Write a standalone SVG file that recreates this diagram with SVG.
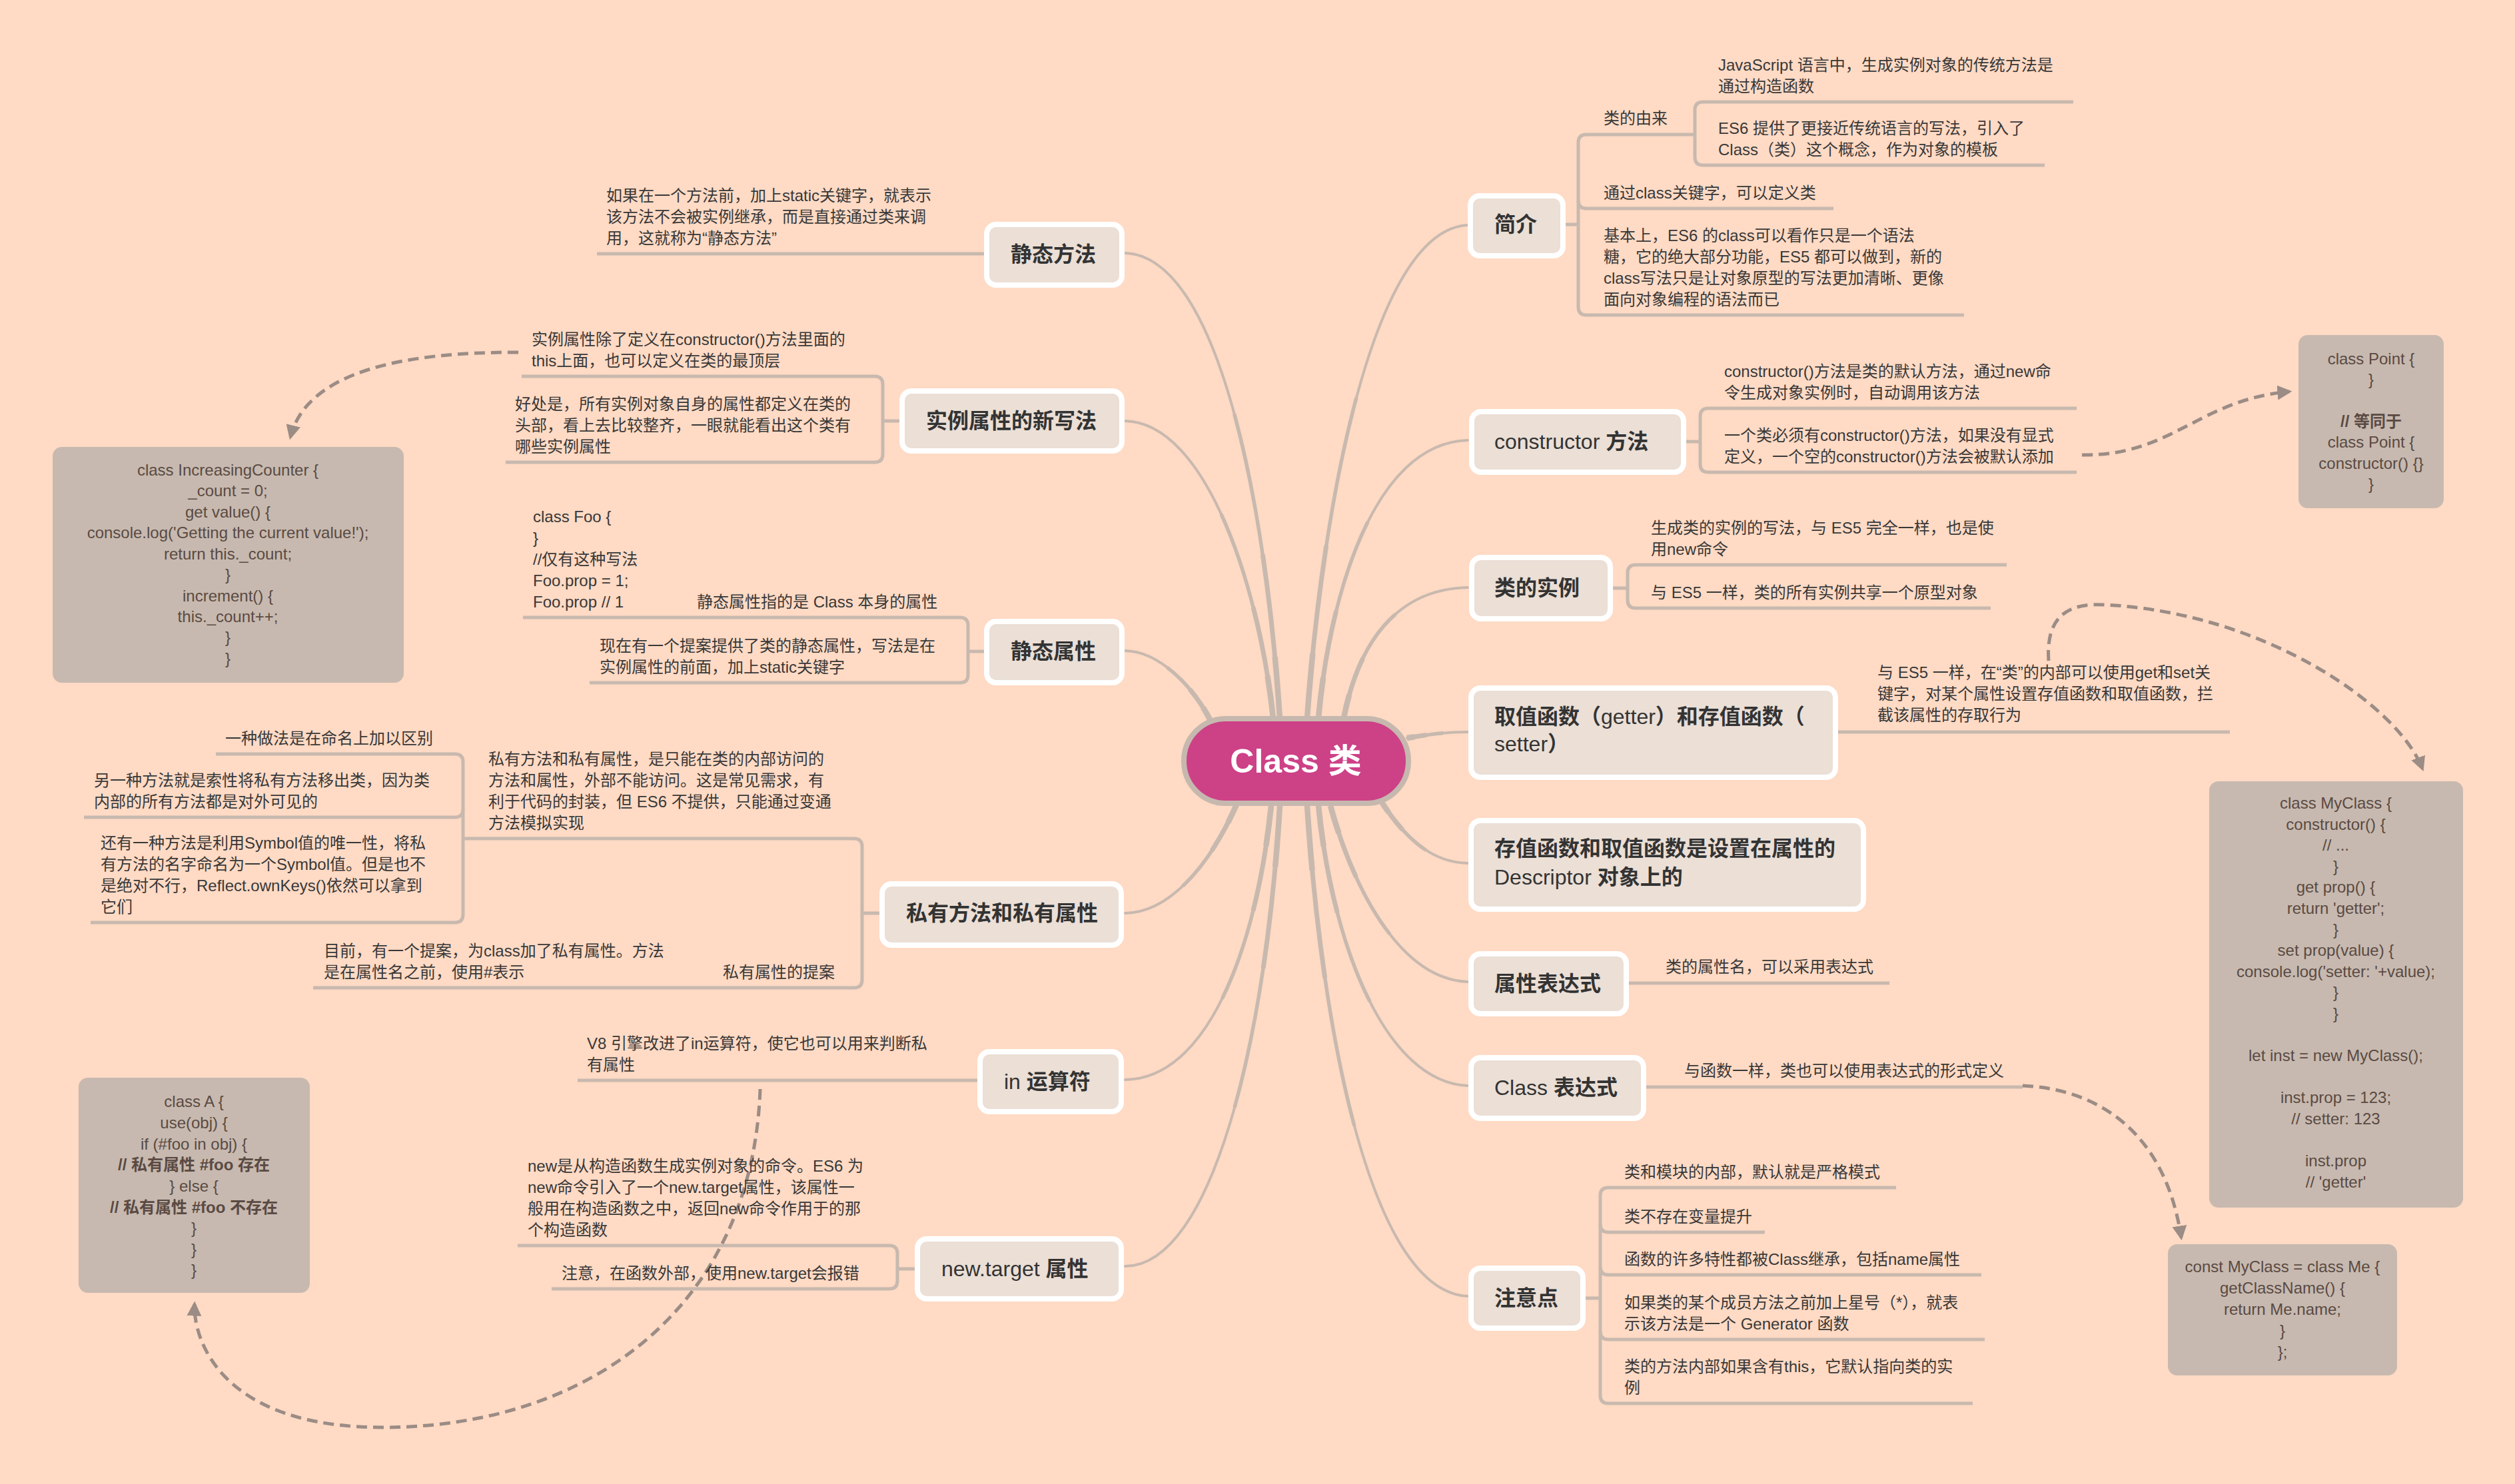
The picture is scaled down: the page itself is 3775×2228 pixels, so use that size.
<svg xmlns="http://www.w3.org/2000/svg" width="3775" height="2228" viewBox="0 0 3775 2228">
<defs>
<style>
text{font-family:"Liberation Sans","Noto Sans CJK SC",sans-serif;}
.leaf{font-size:24px;fill:#383838;}
.title{font-size:32px;font-weight:bold;fill:#333333;}
.lat{font-weight:normal;}
.code{font-size:24px;fill:#5A4A43;text-anchor:middle;}
.codeb{font-weight:bold;}
.nodebox{fill:#EBDFD6;stroke:#FFFFFF;stroke-width:8;}
.codebox{fill:#C7B9AF;}
.m0{fill:none;stroke:#C8B9AF;stroke-width:4;stroke-linecap:round;}
.m1{fill:none;stroke:#C8B9AF;stroke-width:5.5;stroke-dasharray:60 200;}
.m2{fill:none;stroke:#C8B9AF;stroke-width:7;stroke-dasharray:32 200;}
.m3{fill:none;stroke:#C8B9AF;stroke-width:8.5;stroke-dasharray:12 200;}
.ul{fill:none;stroke:#C8B9AF;stroke-width:5;}
.dash{fill:none;stroke:#9B8C85;stroke-width:5;stroke-dasharray:16 9;}
</style>
<marker id="arrow" viewBox="0 0 10 10" refX="8" refY="5" markerWidth="22" markerHeight="22" markerUnits="userSpaceOnUse" orient="auto">
<path d="M0,0 L10,5 L0,10 z" fill="#9B8C85"/>
</marker>
<path id="b1" pathLength="100" d="M1962,1078 C1985,760 2060,345 2203,338"/>
<path id="b2" pathLength="100" d="M1979,1078 C1995,900 2060,665 2203,661"/>
<path id="b3" pathLength="100" d="M2017,1078 C2040,960 2100,884 2203,882"/>
<path id="b4" pathLength="100" d="M2112,1108 C2150,1102 2170,1099 2203,1099"/>
<path id="b5" pathLength="100" d="M2073,1203 C2110,1260 2150,1295 2203,1296"/>
<path id="b6" pathLength="100" d="M1997,1210 C2030,1330 2100,1470 2203,1474"/>
<path id="b7" pathLength="100" d="M1979,1210 C2000,1420 2080,1625 2203,1630"/>
<path id="b8" pathLength="100" d="M1962,1210 C1985,1560 2060,1940 2203,1946"/>
<path id="b9" pathLength="100" d="M1921,1078 C1900,760 1830,385 1689,380"/>
<path id="b10" pathLength="100" d="M1911,1078 C1890,880 1810,635 1689,632"/>
<path id="b11" pathLength="100" d="M1816,1080 C1790,1030 1740,978 1689,977"/>
<path id="b12" pathLength="100" d="M1856,1208 C1820,1290 1760,1370 1689,1371"/>
<path id="b13" pathLength="100" d="M1908,1210 C1885,1430 1810,1620 1689,1621"/>
<path id="b14" pathLength="100" d="M1921,1210 C1900,1560 1820,1900 1689,1901"/>
</defs>
<rect x="0" y="0" width="3775" height="2228" fill="#FFDAC4"/>

<g id="connectors">
<!-- main branches (tapered by stacked strokes) -->
<g class="m0"><use href="#b1"/><use href="#b2"/><use href="#b3"/><use href="#b4"/><use href="#b5"/><use href="#b6"/><use href="#b7"/><use href="#b8"/><use href="#b9"/><use href="#b10"/><use href="#b11"/><use href="#b12"/><use href="#b13"/><use href="#b14"/></g>
<g class="m1"><use href="#b1"/><use href="#b2"/><use href="#b3"/><use href="#b4"/><use href="#b5"/><use href="#b6"/><use href="#b7"/><use href="#b8"/><use href="#b9"/><use href="#b10"/><use href="#b11"/><use href="#b12"/><use href="#b13"/><use href="#b14"/></g>
<g class="m2"><use href="#b1"/><use href="#b2"/><use href="#b3"/><use href="#b4"/><use href="#b5"/><use href="#b6"/><use href="#b7"/><use href="#b8"/><use href="#b9"/><use href="#b10"/><use href="#b11"/><use href="#b12"/><use href="#b13"/><use href="#b14"/></g>
<g class="m3"><use href="#b1"/><use href="#b2"/><use href="#b3"/><use href="#b4"/><use href="#b5"/><use href="#b6"/><use href="#b7"/><use href="#b8"/><use href="#b9"/><use href="#b10"/><use href="#b11"/><use href="#b12"/><use href="#b13"/><use href="#b14"/></g>

<!-- 简介 -->
<path class="ul" d="M2350,337 H2369"/>
<path class="ul" d="M2544,202 H2381 Q2369,202 2369,214 V461 Q2369,473 2381,473 H2948"/>
<path class="ul" d="M2369,301 Q2369,313 2381,313 H2752"/>
<path class="ul" d="M3112,153 H2556 Q2544,153 2544,165 V236 Q2544,248 2556,248 H3069"/>
<!-- constructor -->
<path class="ul" d="M2531,663 H2552"/>
<path class="ul" d="M3117,613 H2564 Q2552,613 2552,625 V697 Q2552,709 2564,709 H3117"/>
<!-- 类的实例 -->
<path class="ul" d="M2421,883 H2443"/>
<path class="ul" d="M3012,848 H2455 Q2443,848 2443,860 V901 Q2443,913 2455,913 H2988"/>
<!-- 取值 -->
<path class="ul" d="M2759,1099 H3347"/>
<!-- 属性表达式 -->
<path class="ul" d="M2445,1476 H2836"/>
<!-- Class 表达式 -->
<path class="ul" d="M2471,1632 H3036"/>
<!-- 注意点 -->
<path class="ul" d="M2380,1949 H2402"/>
<path class="ul" d="M2846,1783 H2414 Q2402,1783 2402,1795 V2095 Q2402,2107 2414,2107 H2961"/>
<path class="ul" d="M2402,1838 Q2402,1850 2414,1850 H2649"/>
<path class="ul" d="M2402,1902 Q2402,1914 2414,1914 H2974"/>
<path class="ul" d="M2402,1999 Q2402,2011 2414,2011 H2979"/>

<!-- 静态方法 -->
<path class="ul" d="M896,381 H1477"/>
<!-- 实例属性的新写法 -->
<path class="ul" d="M1350,632 H1325"/>
<path class="ul" d="M783,565 H1313 Q1325,565 1325,577 V682 Q1325,694 1313,694 H759"/>
<!-- 静态属性 -->
<path class="ul" d="M1477,978 H1453"/>
<path class="ul" d="M785,927 H1441 Q1453,927 1453,939 V1013 Q1453,1025 1441,1025 H885"/>
<!-- 私有 -->
<path class="ul" d="M1320,1371 H1294"/>
<path class="ul" d="M695,1259 H1282 Q1294,1259 1294,1271 V1471 Q1294,1483 1282,1483 H470"/>
<path class="ul" d="M324,1132 H683 Q695,1132 695,1144 V1373 Q695,1385 683,1385 H136"/>
<path class="ul" d="M695,1215 Q695,1227 683,1227 H126"/>
<!-- in -->
<path class="ul" d="M867,1622 H1467"/>
<!-- new.target -->
<path class="ul" d="M1373,1905 H1347"/>
<path class="ul" d="M777,1870 H1335 Q1347,1870 1347,1882 V1923 Q1347,1935 1335,1935 H828"/>

<!-- dashed relations -->
<path class="dash" marker-end="url(#arrow)" d="M3125,683 C3260,685 3300,600 3436,588"/>
<path class="dash" marker-end="url(#arrow)" d="M3075,992 C3070,920 3110,905 3160,908 C3400,920 3600,1060 3636,1154"/>
<path class="dash" marker-end="url(#arrow)" d="M3036,1630 C3150,1635 3250,1700 3274,1858"/>
<path class="dash" marker-end="url(#arrow)" d="M778,529 C600,528 460,560 436,656"/>
<path class="dash" marker-end="url(#arrow)" d="M1141,1635 C1130,1950 900,2140 580,2143 C330,2145 290,2010 292,1958"/>
</g>

<g id="center">
<rect x="1777" y="1079" width="337" height="127" rx="63" fill="#CD4187" stroke="#C6B8AE" stroke-width="8"/>
<text x="1945" y="1160" font-size="50" font-weight="bold" fill="#FFFFFF" text-anchor="middle">Class 类</text>
</g>

<!-- right nodes -->
<g id="n-intro">
<rect class="nodebox" x="2207" y="294" width="139" height="90" rx="14"/>
<text class="title" x="2243" y="348">简介</text>
<text class="leaf" x="2407" y="186">类的由来</text>
<text class="leaf" x="2579" y="106">JavaScript 语言中，生成实例对象的传统方法是</text>
<text class="leaf" x="2579" y="138">通过构造函数</text>
<text class="leaf" x="2579" y="201">ES6 提供了更接近传统语言的写法，引入了</text>
<text class="leaf" x="2579" y="233">Class（类）这个概念，作为对象的模板</text>
<text class="leaf" x="2407" y="298">通过class关键字，可以定义类</text>
<text class="leaf" x="2407" y="362">基本上，ES6 的class可以看作只是一个语法</text>
<text class="leaf" x="2407" y="394">糖，它的绝大部分功能，ES5 都可以做到，新的</text>
<text class="leaf" x="2407" y="426">class写法只是让对象原型的写法更加清晰、更像</text>
<text class="leaf" x="2407" y="458">面向对象编程的语法而已</text>
</g>

<g id="n-constructor">
<rect class="nodebox" x="2209" y="618" width="318" height="91" rx="14"/>
<text class="title" x="2243" y="674"><tspan class="lat">constructor </tspan>方法</text>
<text class="leaf" x="2588" y="566">constructor()方法是类的默认方法，通过new命</text>
<text class="leaf" x="2588" y="598">令生成对象实例时，自动调用该方法</text>
<text class="leaf" x="2588" y="662">一个类必须有constructor()方法，如果没有显式</text>
<text class="leaf" x="2588" y="694">定义，一个空的constructor()方法会被默认添加</text>
</g>

<g id="code-point">
<rect class="codebox" x="3450" y="503" width="218" height="260" rx="14"/>
<text class="code" x="3559" y="547">class Point {</text>
<text class="code" x="3559" y="578">}</text>
<text class="code codeb" x="3559" y="641">// 等同于</text>
<text class="code" x="3559" y="672">class Point {</text>
<text class="code" x="3559" y="704">constructor() {}</text>
<text class="code" x="3559" y="735">}</text>
</g>

<g id="n-instance">
<rect class="nodebox" x="2209" y="837" width="208" height="92" rx="14"/>
<text class="title" x="2243" y="894">类的实例</text>
<text class="leaf" x="2478" y="801">生成类的实例的写法，与 ES5 完全一样，也是使</text>
<text class="leaf" x="2478" y="833">用new命令</text>
<text class="leaf" x="2478" y="898">与 ES5 一样，类的所有实例共享一个原型对象</text>
</g>

<g id="n-getter">
<rect class="nodebox" x="2208" y="1033" width="547" height="134" rx="14"/>
<text class="title" x="2243" y="1087">取值函数（<tspan class="lat">getter</tspan>）和存值函数（</text>
<text class="title" x="2243" y="1128"><tspan class="lat">setter</tspan>）</text>
<text class="leaf" x="2818" y="1018">与 ES5 一样，在“类”的内部可以使用get和set关</text>
<text class="leaf" x="2818" y="1050">键字，对某个属性设置存值函数和取值函数，拦</text>
<text class="leaf" x="2818" y="1082">截该属性的存取行为</text>
</g>

<g id="code-myclass">
<rect class="codebox" x="3316" y="1173" width="381" height="640" rx="14"/>
<text class="code" x="3506" y="1214">class MyClass {</text>
<text class="code" x="3506" y="1246">constructor() {</text>
<text class="code" x="3506" y="1277">// ...</text>
<text class="code" x="3506" y="1309">}</text>
<text class="code" x="3506" y="1340">get prop() {</text>
<text class="code" x="3506" y="1372">return 'getter';</text>
<text class="code" x="3506" y="1404">}</text>
<text class="code" x="3506" y="1435">set prop(value) {</text>
<text class="code" x="3506" y="1467">console.log('setter: '+value);</text>
<text class="code" x="3506" y="1498">}</text>
<text class="code" x="3506" y="1530">}</text>
<text class="code" x="3506" y="1593">let inst = new MyClass();</text>
<text class="code" x="3506" y="1656">inst.prop = 123;</text>
<text class="code" x="3506" y="1688">// setter: 123</text>
<text class="code" x="3506" y="1751">inst.prop</text>
<text class="code" x="3506" y="1783">// 'getter'</text>
</g>

<g id="n-descriptor">
<rect class="nodebox" x="2208" y="1232" width="589" height="133" rx="14"/>
<text class="title" x="2243" y="1285">存值函数和取值函数是设置在属性的</text>
<text class="title" x="2243" y="1328"><tspan class="lat">Descriptor </tspan>对象上的</text>
</g>

<g id="n-propexpr">
<rect class="nodebox" x="2208" y="1432" width="233" height="90" rx="14"/>
<text class="title" x="2243" y="1488">属性表达式</text>
<text class="leaf" x="2500" y="1460">类的属性名，可以采用表达式</text>
</g>

<g id="n-classexpr">
<rect class="nodebox" x="2208" y="1588" width="259" height="91" rx="14"/>
<text class="title" x="2243" y="1644"><tspan class="lat">Class </tspan>表达式</text>
<text class="leaf" x="2528" y="1616">与函数一样，类也可以使用表达式的形式定义</text>
</g>

<g id="code-me">
<rect class="codebox" x="3254" y="1868" width="344" height="197" rx="14"/>
<text class="code" x="3426" y="1910">const MyClass = class Me {</text>
<text class="code" x="3426" y="1942">getClassName() {</text>
<text class="code" x="3426" y="1974">return Me.name;</text>
<text class="code" x="3426" y="2006">}</text>
<text class="code" x="3426" y="2038">};</text>
</g>

<g id="n-notes">
<rect class="nodebox" x="2208" y="1904" width="168" height="90" rx="14"/>
<text class="title" x="2243" y="1960">注意点</text>
<text class="leaf" x="2438" y="1768">类和模块的内部，默认就是严格模式</text>
<text class="leaf" x="2438" y="1835">类不存在变量提升</text>
<text class="leaf" x="2438" y="1899">函数的许多特性都被Class继承，包括name属性</text>
<text class="leaf" x="2438" y="1964">如果类的某个成员方法之前加上星号（*），就表</text>
<text class="leaf" x="2438" y="1996">示该方法是一个 Generator 函数</text>
<text class="leaf" x="2438" y="2060">类的方法内部如果含有this，它默认指向类的实</text>
<text class="leaf" x="2438" y="2092">例</text>
</g>

<!-- left nodes -->
<g id="n-static-method">
<rect class="nodebox" x="1481" y="337" width="203" height="91" rx="14"/>
<text class="title" x="1517" y="393">静态方法</text>
<text class="leaf" x="910" y="302">如果在一个方法前，加上static关键字，就表示</text>
<text class="leaf" x="910" y="334">该方法不会被实例继承，而是直接通过类来调</text>
<text class="leaf" x="910" y="366">用，这就称为“静态方法”</text>
</g>

<g id="n-instance-prop">
<rect class="nodebox" x="1354" y="587" width="330" height="90" rx="14"/>
<text class="title" x="1390" y="643">实例属性的新写法</text>
<text class="leaf" x="798" y="518">实例属性除了定义在constructor()方法里面的</text>
<text class="leaf" x="798" y="550">this上面，也可以定义在类的最顶层</text>
<text class="leaf" x="773" y="615">好处是，所有实例对象自身的属性都定义在类的</text>
<text class="leaf" x="773" y="647">头部，看上去比较整齐，一眼就能看出这个类有</text>
<text class="leaf" x="773" y="679">哪些实例属性</text>
</g>

<g id="code-counter">
<rect class="codebox" x="79" y="671" width="527" height="354" rx="14"/>
<text class="code" x="342" y="714">class IncreasingCounter {</text>
<text class="code" x="342" y="745">_count = 0;</text>
<text class="code" x="342" y="777">get value() {</text>
<text class="code" x="342" y="808">console.log('Getting the current value!');</text>
<text class="code" x="342" y="840">return this._count;</text>
<text class="code" x="342" y="871">}</text>
<text class="code" x="342" y="903">increment() {</text>
<text class="code" x="342" y="934">this._count++;</text>
<text class="code" x="342" y="965">}</text>
<text class="code" x="342" y="997">}</text>
</g>

<g id="n-static-prop">
<rect class="nodebox" x="1481" y="933" width="203" height="92" rx="14"/>
<text class="title" x="1517" y="989">静态属性</text>
<text class="leaf" x="1046" y="912">静态属性指的是 Class 本身的属性</text>
<text class="leaf" x="800" y="784">class Foo {</text>
<text class="leaf" x="800" y="816">}</text>
<text class="leaf" x="800" y="848">//仅有这种写法</text>
<text class="leaf" x="800" y="880">Foo.prop = 1;</text>
<text class="leaf" x="800" y="912">Foo.prop // 1</text>
<text class="leaf" x="900" y="978">现在有一个提案提供了类的静态属性，写法是在</text>
<text class="leaf" x="900" y="1010">实例属性的前面，加上static关键字</text>
</g>

<g id="n-private">
<rect class="nodebox" x="1324" y="1327" width="359" height="92" rx="14"/>
<text class="title" x="1360" y="1382">私有方法和私有属性</text>
<text class="leaf" x="733" y="1148">私有方法和私有属性，是只能在类的内部访问的</text>
<text class="leaf" x="733" y="1180">方法和属性，外部不能访问。这是常见需求，有</text>
<text class="leaf" x="733" y="1212">利于代码的封装，但 ES6 不提供，只能通过变通</text>
<text class="leaf" x="733" y="1244">方法模拟实现</text>
<text class="leaf" x="338" y="1117">一种做法是在命名上加以区别</text>
<text class="leaf" x="141" y="1180">另一种方法就是索性将私有方法移出类，因为类</text>
<text class="leaf" x="141" y="1212">内部的所有方法都是对外可见的</text>
<text class="leaf" x="151" y="1274">还有一种方法是利用Symbol值的唯一性，将私</text>
<text class="leaf" x="151" y="1306">有方法的名字命名为一个Symbol值。但是也不</text>
<text class="leaf" x="151" y="1338">是绝对不行，Reflect.ownKeys()依然可以拿到</text>
<text class="leaf" x="151" y="1370">它们</text>
<text class="leaf" x="1085" y="1468">私有属性的提案</text>
<text class="leaf" x="486" y="1436">目前，有一个提案，为class加了私有属性。方法</text>
<text class="leaf" x="486" y="1468">是在属性名之前，使用#表示</text>
</g>

<g id="n-in">
<rect class="nodebox" x="1471" y="1579" width="212" height="90" rx="14"/>
<text class="title" x="1507" y="1635"><tspan class="lat">in </tspan>运算符</text>
<text class="leaf" x="881" y="1575">V8 引擎改进了in运算符，使它也可以用来判断私</text>
<text class="leaf" x="881" y="1607">有属性</text>
</g>

<g id="code-a">
<rect class="codebox" x="118" y="1618" width="347" height="323" rx="14"/>
<text class="code" x="291" y="1662">class A {</text>
<text class="code" x="291" y="1694">use(obj) {</text>
<text class="code" x="291" y="1726">if (#foo in obj) {</text>
<text class="code codeb" x="291" y="1757">// 私有属性 #foo 存在</text>
<text class="code" x="291" y="1789">} else {</text>
<text class="code codeb" x="291" y="1821">// 私有属性 #foo 不存在</text>
<text class="code" x="291" y="1852">}</text>
<text class="code" x="291" y="1884">}</text>
<text class="code" x="291" y="1915">}</text>
</g>

<g id="n-newtarget">
<rect class="nodebox" x="1377" y="1860" width="306" height="90" rx="14"/>
<text class="title" x="1413" y="1916"><tspan class="lat">new.target </tspan>属性</text>
<text class="leaf" x="792" y="1759">new是从构造函数生成实例对象的命令。ES6 为</text>
<text class="leaf" x="792" y="1791">new命令引入了一个new.target属性，该属性一</text>
<text class="leaf" x="792" y="1823">般用在构造函数之中，返回new命令作用于的那</text>
<text class="leaf" x="792" y="1855">个构造函数</text>
<text class="leaf" x="843" y="1920">注意，在函数外部，使用new.target会报错</text>
</g>
</svg>
